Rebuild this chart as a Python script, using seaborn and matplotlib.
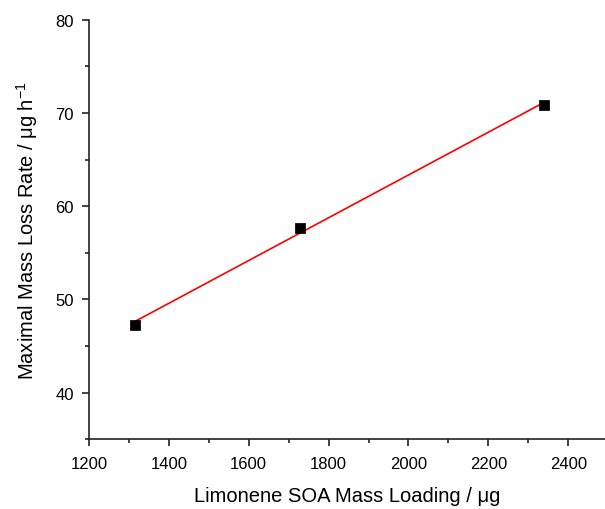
import numpy as np
import pandas as pd
import matplotlib.pyplot as plt
import seaborn as sns
from matplotlib.ticker import MultipleLocator

# values
soa_loading = [1316, 1728, 2339]       # ug
max_loss_rate = [47.3, 57.7, 70.9]     # ug h-1

df = pd.DataFrame({"loading": soa_loading, "rate": max_loss_rate})

sns.set_style("ticks")
plt.rcParams['font.family'] = ['Liberation Sans', 'DejaVu Sans']
plt.rcParams['mathtext.fontset'] = 'custom'
plt.rcParams['mathtext.rm'] = 'Liberation Sans'
plt.rcParams['text.color'] = 'black'
plt.rcParams['axes.labelcolor'] = 'black'
plt.rcParams['xtick.color'] = 'black'
plt.rcParams['ytick.color'] = 'black'

fig = plt.figure(figsize=(6.05, 5.10), dpi=100)
ax = fig.add_axes([0.147, 0.137, 0.853, 0.822])

# linear fit line
sns.regplot(data=df, x="loading", y="rate", ax=ax, ci=None, scatter=False,
            truncate=True, line_kws={"color": "red", "lw": 1.2, "zorder": 2})
sns.scatterplot(data=df, x="loading", y="rate", ax=ax, marker="s",
                color="black", s=45, edgecolor="black", zorder=3)

ax.set_xlim(1200, 2492)
ax.set_ylim(35, 80)
ax.xaxis.set_major_locator(MultipleLocator(200))
ax.xaxis.set_minor_locator(MultipleLocator(100))
ax.yaxis.set_major_locator(MultipleLocator(10))
ax.yaxis.set_minor_locator(MultipleLocator(5))
ax.tick_params(which="major", direction="out", length=5, width=1.2,
               labelsize=12, color="#222222")
ax.tick_params(axis="x", which="major", pad=7)
ax.tick_params(axis="y", which="major", pad=6)
ax.tick_params(which="minor", direction="out", length=3, width=1.2,
               color="#222222")
for s in ["left", "bottom"]:
    ax.spines[s].set_linewidth(1.2)
    ax.spines[s].set_color("#222222")
sns.despine(ax=ax)

ax.set_xlabel("Limonene SOA Mass Loading / μg", fontsize=14.5, labelpad=11)
ax.set_ylabel("Maximal Mass Loss Rate / μg h$^{-1}$", fontsize=14.5, labelpad=11)

fig.savefig("out.png", dpi=100)
